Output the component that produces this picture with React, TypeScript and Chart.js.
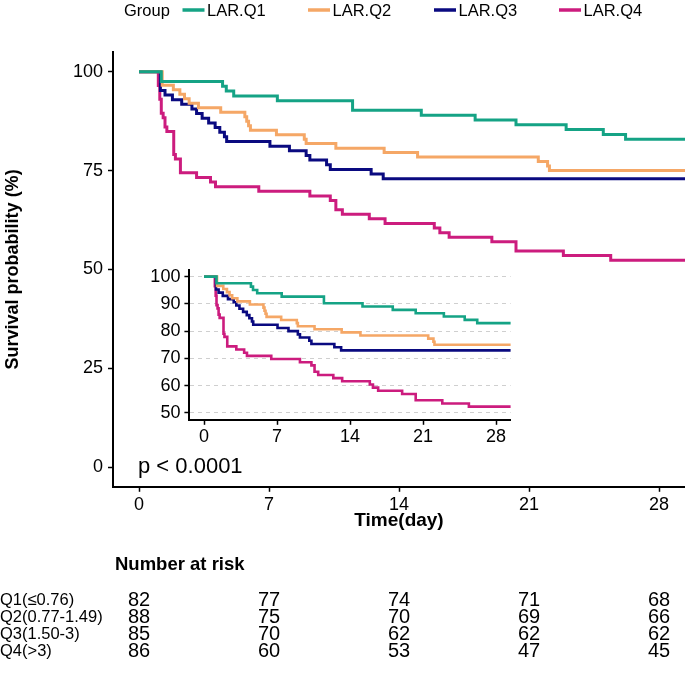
import React, { useEffect, useRef } from "react";
import { Chart, registerables } from "chart.js";

Chart.register(...registerables);

const FONT = '"Liberation Sans", Arial, Helvetica, sans-serif';

const groups = ["LAR.Q1", "LAR.Q2", "LAR.Q3", "LAR.Q4"];
const colors = ["#15A385", "#F5A766", "#0A0A80", "#CC1C7E"];

const q1Time = [0, 1.2, 4.5, 4.7, 5.1, 7.45, 11.5, 15.2, 18.1, 20.3, 23.0, 25.0, 26.2, 30];
const q1Surv = [100, 97.56, 96.34, 95.12, 93.9, 92.68, 90.24, 89.02, 87.8, 86.59, 85.37, 84.15, 82.93, 82.93];

const q2Time = [0, 1.25, 1.85, 2.2, 2.45, 2.7, 3.2, 4.4, 5.7, 5.8, 5.9, 6.0, 7.4, 8.9, 9.0, 10.6, 13.2, 15.0, 21.5, 22.0, 22.1, 30];
const q2Surv = [100, 96.59, 95.45, 94.32, 93.18, 92.05, 90.91, 89.77, 88.64, 87.5, 86.36, 85.23, 84.09, 82.95, 81.82, 80.68, 79.55, 78.41, 77.27, 76.14, 75.0, 75.0];

const q3Time = [0, 1.15, 1.4, 1.8, 2.3, 2.85, 3.1, 3.4, 3.75, 4.1, 4.35, 4.6, 4.72, 7.05, 8.1, 9.0, 9.2, 10.1, 10.3, 12.5, 13.15, 30];
const q3Surv = [100, 95.29, 94.12, 92.94, 91.76, 90.59, 89.41, 88.24, 87.06, 85.88, 84.71, 83.53, 82.35, 81.18, 80.0, 78.82, 77.65, 76.47, 75.29, 74.12, 72.94, 72.94];

const q4Time = [0, 1.04, 1.12, 1.2, 1.3, 1.4, 1.5, 1.87, 1.96, 2.23, 3.1, 3.85, 4.12, 6.45, 9.2, 10.3, 10.6, 10.95, 12.4, 13.25, 15.9, 16.2, 16.7, 19.0, 20.3, 22.85, 25.4, 30];
const q4Surv = [100, 96.51, 93.02, 89.53, 88.37, 86.05, 84.88, 79.07, 77.91, 74.42, 73.26, 72.09, 70.93, 69.77, 68.6, 67.44, 65.12, 63.95, 62.79, 61.63, 60.47, 59.3, 58.14, 56.98, 54.65, 53.49, 52.33, 52.33];

const seriesTimes = [q1Time, q2Time, q3Time, q4Time];
const seriesSurv = [q1Surv, q2Surv, q3Surv, q4Surv];

const xTicks = [0, 7, 14, 21, 28];
const mainYTicks = [0, 25, 50, 75, 100];
const insetYTicks = [50, 60, 70, 80, 90, 100];

const riskTitle = "Number at risk";
const riskTimes = [0, 7, 14, 21, 28];
const riskLabels = ["Q1(≤0.76)", "Q2(0.77-1.49)", "Q3(1.50-3)", "Q4(>3)"];
const riskQ1 = [82, 77, 74, 71, 68];
const riskQ2 = [88, 75, 70, 69, 66];
const riskQ3 = [85, 70, 62, 62, 62];
const riskQ4 = [86, 60, 53, 47, 45];
const riskRows = [riskQ1, riskQ2, riskQ3, riskQ4];

const pValueText = "p < 0.0001";
const legendTitle = "Group";

function makeDatasets(width: number) {
  return groups.map((g, i) => ({
    label: g,
    data: seriesTimes[i].map((t, j) => ({ x: t, y: seriesSurv[i][j] })),
    borderColor: colors[i],
    backgroundColor: colors[i],
    borderWidth: width,
    pointRadius: 0,
    stepped: "before" as const,
    fill: false,
    tension: 0,
  }));
}

const annotPlugin = {
  id: "annot",
  afterDraw(chart: any) {
    const ctx = chart.ctx as CanvasRenderingContext2D;
    const xs = chart.scales.x;
    ctx.save();
    ctx.fillStyle = "#000";
    ctx.textBaseline = "middle";
    // legend
    ctx.font = `16.5px ${FONT}`;
    ctx.textAlign = "left";
    ctx.fillText(legendTitle, 124, 11);
    const swatchX = [182.5, 308, 434, 559];
    groups.forEach((g, i) => {
      ctx.strokeStyle = colors[i];
      ctx.lineWidth = 3.5;
      ctx.beginPath();
      ctx.moveTo(swatchX[i], 10);
      ctx.lineTo(swatchX[i] + 22, 10);
      ctx.stroke();
      ctx.fillText(g, swatchX[i] + 24.5, 11);
    });
    // p-value
    ctx.font = `22px ${FONT}`;
    ctx.fillText(pValueText, 138, 467);
    // risk table
    ctx.font = `bold 18.5px ${FONT}`;
    ctx.fillText(riskTitle, 115, 565);
    const rowY = [600, 617, 634, 651];
    riskRows.forEach((row, r) => {
      ctx.font = `16.5px ${FONT}`;
      ctx.textAlign = "left";
      ctx.fillText(riskLabels[r], 0, rowY[r]);
      ctx.font = `20px ${FONT}`;
      ctx.textAlign = "center";
      row.forEach((v, k) => {
        ctx.fillText(String(v), xs.getPixelForValue(riskTimes[k]), rowY[r]);
      });
    });
    ctx.restore();
  },
};

export default function App() {
  const mainRef = useRef<HTMLCanvasElement | null>(null);
  const insetRef = useRef<HTMLCanvasElement | null>(null);

  useEffect(() => {
    if (!mainRef.current || !insetRef.current) return;
    const main = new Chart(mainRef.current, {
      type: "line",
      data: { datasets: makeDatasets(3) as any },
      plugins: [annotPlugin],
      options: {
        animation: false,
        responsive: false,
        devicePixelRatio: 1,
        layout: { padding: { top: 52, left: 0, right: 0, bottom: 138.2 } },
        plugins: { legend: { display: false }, tooltip: { enabled: false } },
        scales: {
          x: {
            type: "linear",
            min: -1.4,
            max: 29.4,
            afterBuildTicks: (s: any) => { s.ticks = xTicks.map((v) => ({ value: v })); },
            afterFit: (s: any) => { s.height = 50; },
            grid: { display: true, drawOnChartArea: false, drawTicks: true, tickLength: 5, tickColor: "#000", tickWidth: 1.5 },
            border: { display: true, color: "#000", width: 2 },
            ticks: { color: "#000", font: { family: FONT, size: 18 }, padding: 2, maxRotation: 0, autoSkip: false },
            title: { display: true, text: "Time(day)", color: "#000", font: { family: FONT, size: 19, weight: "bold" }, padding: { top: 0, bottom: 4.4 } },
          },
          y: {
            type: "linear",
            min: -5,
            max: 105,
            afterBuildTicks: (s: any) => { s.ticks = mainYTicks.map((v) => ({ value: v })); },
            afterFit: (s: any) => { s.width = 113; },
            grid: { display: true, drawOnChartArea: false, drawTicks: true, tickLength: 5, tickColor: "#000", tickWidth: 1.5 },
            border: { display: true, color: "#000", width: 2 },
            ticks: { color: "#000", font: { family: FONT, size: 18 }, padding: 5 },
            title: { display: true, text: "Survival probability (%)", color: "#000", font: { family: FONT, size: 18, weight: "bold" }, padding: { top: 2, bottom: 0 } },
          },
        },
      } as any,
    });

    const inset = new Chart(insetRef.current, {
      type: "line",
      data: { datasets: makeDatasets(2.6) as any },
      options: {
        animation: false,
        responsive: false,
        devicePixelRatio: 1,
        layout: { padding: { top: 13.2, left: 0, right: 9.4, bottom: 0 } },
        plugins: { legend: { display: false }, tooltip: { enabled: false } },
        scales: {
          x: {
            type: "linear",
            min: -1.4,
            max: 29.4,
            afterBuildTicks: (s: any) => { s.ticks = xTicks.map((v) => ({ value: v })); },
            afterFit: (s: any) => { s.height = 30.2; },
            grid: { display: true, drawOnChartArea: false, drawTicks: true, tickLength: 5, tickColor: "#000", tickWidth: 1.5 },
            border: { display: true, color: "#000", width: 2 },
            ticks: { color: "#000", font: { family: FONT, size: 18 }, padding: 1, maxRotation: 0, autoSkip: false },
          },
          y: {
            type: "linear",
            min: 47.5,
            max: 102.5,
            afterBuildTicks: (s: any) => { s.ticks = insetYTicks.map((v) => ({ value: v })); },
            afterFit: (s: any) => { s.width = 59.4; },
            grid: { display: true, drawOnChartArea: true, drawTicks: true, tickLength: 5, color: "#cfcfcf", lineWidth: 1, tickColor: "#000", tickWidth: 1.5 },
            border: { display: true, color: "#000", width: 2, dash: [4, 4] },
            ticks: { color: "#000", font: { family: FONT, size: 18 }, padding: 4 },
          },
        },
      } as any,
    });

    return () => {
      main.destroy();
      inset.destroy();
    };
  }, []);

  return (
    <div style={{ position: "absolute", left: 0, top: 0, width: 685, height: 675, background: "#fff" }}>
      <canvas ref={mainRef} width={685} height={675} style={{ position: "absolute", left: 0, top: 0, width: 685, height: 675 }} />
      <canvas ref={insetRef} width={390} height={195} style={{ position: "absolute", left: 130, top: 255, width: 390, height: 195 }} />
    </div>
  );
}
